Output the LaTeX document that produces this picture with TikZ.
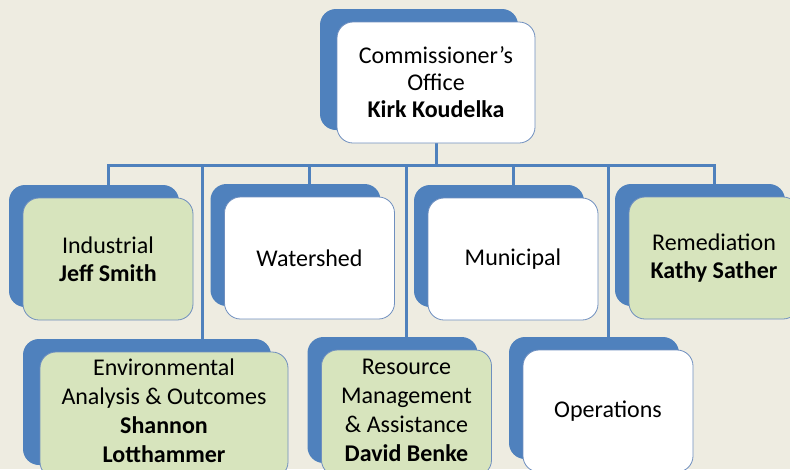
\documentclass[tikz,border=0pt]{standalone}
\usepackage{fontspec}
\setmainfont{Carlito}
\usepackage{tikz}
\usetikzlibrary{calc}
\usetikzlibrary{shadows}
\definecolor{officeblue}{HTML}{4F81BD}
\definecolor{paper}{HTML}{EEECE1}
\definecolor{olivefill}{HTML}{D7E4BD}
\definecolor{boxline}{HTML}{6F8FBF}
\pgfdeclarelayer{back}
\pgfdeclarelayer{lines}
\pgfsetlayers{back,lines,main}

\begin{document}
\begin{tikzpicture}[x=1pt, y=-1pt,
        box_style/.style={rectangle, rounded corners=16pt, draw=boxline, line width=0.8pt, fill=white,
            minimum width=170pt, minimum height=122pt, inner sep=0pt, align=center,
            font=\fontsize{24}{28}\selectfont,
            drop shadow={shadow xshift=-#1, shadow yshift=13pt, fill=officeblue, opacity=1}},
        box_style/.default=14pt,
        staff_style/.style={box_style=#1, fill=olivefill},
        staff_style/.default=14pt,
        edge_style/.style={draw=officeblue, line width=3pt}]

        \useasboundingbox (0,0) rectangle (790,469);

        \node [box_style=17pt, minimum width=198pt, minimum height=121pt, font=\fontsize{24}{27}\selectfont](office) at (436,82.5) {Commissioner's\\Office\\\textbf{Kirk Koudelka}};

        \node [staff_style](industrial) at (108,259) {Industrial\\\textbf{Jeff Smith}};

        \node [box_style](watershed) at (309.5,258) {Watershed};

        \node [box_style](municipal) at (513,259) {Municipal};

        \node [staff_style](remediation) at (714,258) {Remediation\\\textbf{Kathy Sather}};

        \node [staff_style=17pt, minimum width=248pt, minimum height=126pt, text depth=8pt, font=\fontsize{24}{29}\selectfont](environmental) at (164,415) {Environmental\\Analysis \& Outcomes\\\textbf{Shannon}\\\textbf{Lotthammer}};

        \node [staff_style, minimum height=126pt, text depth=6pt, font=\fontsize{24}{29}\selectfont](resource) at (406.5,413) {Resource\\Management\\\& Assistance\\\textbf{David Benke}};

        \node [box_style](operations) at (608,411) {Operations};

        \coordinate (bar) at ($(office.south)+(0,22)$);
        \coordinate (envlink) at ([xshift=-86pt]environmental.north east);

        \begin{pgfonlayer}{lines}
        \draw [edge_style] (office.south) -- (bar);

        \draw [edge_style] (industrial.north) |- (bar) -| (remediation.north);

        \draw [edge_style] (bar -| watershed.north) -- (watershed.north);

        \draw [edge_style] (bar -| municipal.north) -- (municipal.north);

        \draw [edge_style] (bar -| envlink) -- (envlink);

        \draw [edge_style] (bar -| resource.north) -- (resource.north);

        \draw [edge_style] (bar -| operations.north) -- (operations.north);
        \end{pgfonlayer}

        \begin{pgfonlayer}{back}
        \fill [paper] (0,0) rectangle (790,469);
        \end{pgfonlayer}

        \end{tikzpicture}
\end{document}
